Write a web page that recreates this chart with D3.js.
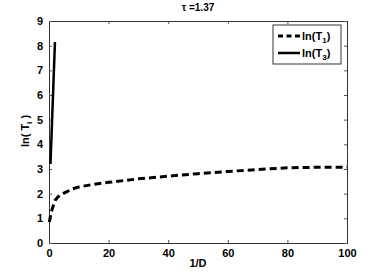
<!DOCTYPE html>
<html>
<head>
<meta charset="utf-8">
<script src="https://cdn.jsdelivr.net/npm/d3@7"></script>
<style>
body { margin: 0; background: #fff; }
text { font-family: "Liberation Sans", Arial, sans-serif; font-weight: bold; }
</style>
</head>
<body>
<div id="chart"></div>
<script>
// data
var t1X = [0.1, 0.5, 1, 2, 3, 5, 8, 10, 15, 20, 30, 40, 50, 60, 70, 80, 90, 100];
var t1Y = [0.85, 1.1, 1.35, 1.72, 1.87, 2.02, 2.2, 2.27, 2.38, 2.46, 2.6, 2.71, 2.81, 2.9, 2.98, 3.05, 3.07, 3.07];
var t3X = [0.5, 1, 1.5, 2];
var t3Y = [3.2, 4.85, 6.5, 8.15];
var xTicks = [0, 20, 40, 60, 80, 100];
var yTicks = [0, 1, 2, 3, 4, 5, 6, 7, 8, 9];
var legendNames = [["ln(T", "1", ")"], ["ln(T", "3", ")"]];

var W = 382, H = 273;
var margin = {top: 21, right: 35, bottom: 30, left: 49},
    width = W - margin.left - margin.right,
    height = H - margin.top - margin.bottom;

var svg = d3.select("#chart").append("svg")
    .attr("width", W)
    .attr("height", H);

var g = svg.append("g")
    .attr("transform", "translate(" + margin.left + "," + margin.top + ")");

var x = d3.scaleLinear().domain([0, 100]).range([0, width]);
var y = d3.scaleLinear().domain([0, 9]).range([height, 0]);

// axes, ticks pointing inward like matlab
var xAxis = g.append("g")
    .attr("transform", "translate(0," + height + ")")
    .call(d3.axisBottom(x).tickValues(xTicks).tickSize(-3).tickPadding(6));
var xTop = g.append("g")
    .call(d3.axisTop(x).tickValues(xTicks).tickSize(-3).tickFormat(""));
var yAxis = g.append("g")
    .call(d3.axisLeft(y).tickValues(yTicks).tickSize(-3).tickPadding(6));
var yRight = g.append("g")
    .attr("transform", "translate(" + width + ",0)")
    .call(d3.axisRight(y).tickValues(yTicks).tickSize(-3).tickFormat(""));

[xAxis, xTop, yAxis, yRight].forEach(function(a){
  a.select(".domain").attr("stroke", "#333").attr("stroke-width", 1);
  a.selectAll(".tick line").attr("stroke", "#555");
  a.selectAll("text").attr("font-size", 11).attr("fill", "#000")
    .style("font-family", "Liberation Sans, Arial, sans-serif").style("font-weight", "bold");
});

var line = d3.line()
  .x(function(d){ return x(d[0]); })
  .y(function(d){ return y(d[1]); });

g.append("path")
  .datum(d3.zip(t1X, t1Y))
  .attr("d", line)
  .attr("fill", "none")
  .attr("stroke", "#000")
  .attr("stroke-width", 3)
  .attr("stroke-dasharray", "7,4");

g.append("path")
  .datum(d3.zip(t3X, t3Y))
  .attr("d", line)
  .attr("fill", "none")
  .attr("stroke", "#000")
  .attr("stroke-width", 2.5);

// title
svg.append("text")
  .attr("x", margin.left + width / 2)
  .attr("y", 11)
  .attr("text-anchor", "middle")
  .attr("font-size", 10)
  .text("\u03c4 =1.37");

// x label
svg.append("text")
  .attr("x", margin.left + width / 2)
  .attr("y", 267)
  .attr("text-anchor", "middle")
  .attr("font-size", 11)
  .text("1/D");

// y label
var yl = svg.append("text")
  .attr("transform", "translate(29," + (margin.top + height / 2 - 1) + ") rotate(-90)")
  .attr("text-anchor", "middle")
  .attr("font-size", 11);
yl.append("tspan").text("ln( T");
yl.append("tspan").attr("font-size", 8).attr("dy", 3).text("i");
yl.append("tspan").attr("dy", -3).text(" )");

// legend
var lg = svg.append("g").attr("transform", "translate(273,25)");
lg.append("rect")
  .attr("width", 68).attr("height", 39)
  .attr("fill", "#fff").attr("stroke", "#333").attr("stroke-width", 1);
legendNames.forEach(function(n, i){
  var yy = 11 + i * 17;
  lg.append("line")
    .attr("x1", 5).attr("x2", 27).attr("y1", yy).attr("y2", yy)
    .attr("stroke", "#000")
    .attr("stroke-width", i === 0 ? 3 : 2.5)
    .attr("stroke-dasharray", i === 0 ? "5,3.5" : null);
  var t = lg.append("text").attr("x", 29).attr("y", yy + 4).attr("font-size", 11);
  t.append("tspan").text(n[0]);
  t.append("tspan").attr("font-size", 8).attr("dy", 3).text(n[1]);
  t.append("tspan").attr("dy", -3).text(n[2]);
});
</script>
</body>
</html>
